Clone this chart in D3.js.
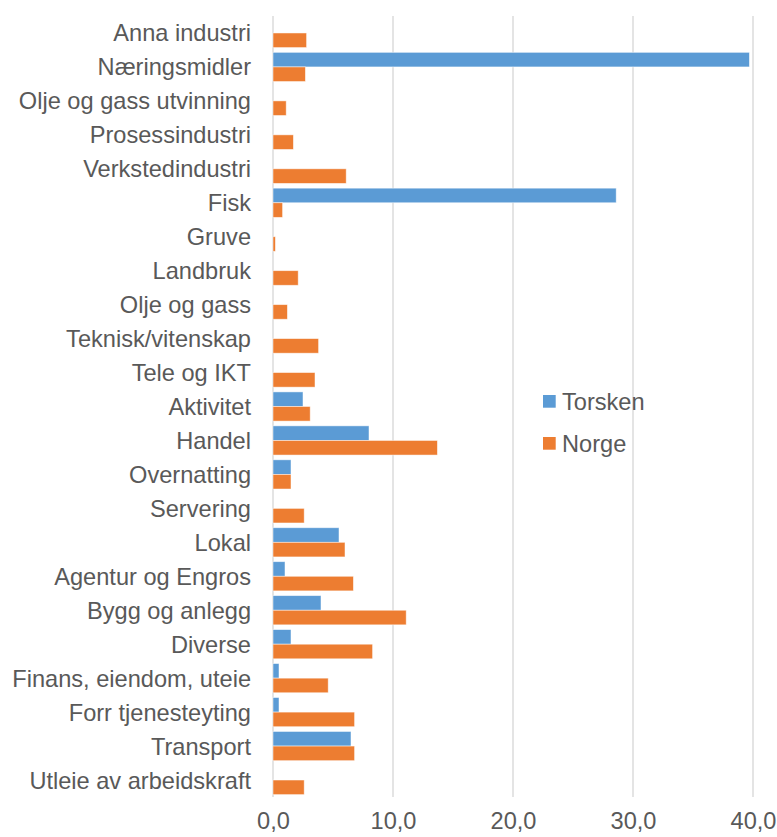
<!DOCTYPE html>
<html>
<head>
<meta charset="utf-8">
<script src="https://cdn.jsdelivr.net/npm/d3@7"></script>
<style>
  body { margin: 0; background: #fff; }
  svg { display: block; font-family: "Liberation Sans", Arial, sans-serif; }
</style>
</head>
<body>
<svg id="chart" width="777" height="837"></svg>
<script>
  // categories top to bottom
  var categories = [
    "Anna industri", "Næringsmidler", "Olje og gass utvinning", "Prosessindustri",
    "Verkstedindustri", "Fisk", "Gruve", "Landbruk", "Olje og gass",
    "Teknisk/vitenskap", "Tele og IKT", "Aktivitet", "Handel", "Overnatting",
    "Servering", "Lokal", "Agentur og Engros", "Bygg og anlegg", "Diverse",
    "Finans, eiendom, uteie", "Forr tjenesteyting", "Transport",
    "Utleie av arbeidskraft"
  ];
  var torsken = [0, 39.7, 0, 0, 0, 28.6, 0, 0, 0, 0, 0, 2.5, 8.0, 1.5, 0, 5.5, 1.0, 4.0, 1.5, 0.5, 0.5, 6.5, 0];
  var norge = [2.8, 2.7, 1.1, 1.7, 6.1, 0.8, 0.2, 2.1, 1.2, 3.8, 3.5, 3.1, 13.7, 1.5, 2.6, 6.0, 6.7, 11.1, 8.3, 4.6, 6.8, 6.8, 2.6];
  var seriesNames = ["Torsken", "Norge"];
  var colors = ["#5B9BD5", "#ED7D31"];
  var xTicks = [0, 10, 20, 30, 40];

  var svg = d3.select("#chart");
  var textColor = "#595959";
  var fontSize = "23.6px";

  var x = d3.scaleLinear().domain([0, 40]).range([273, 753]);
  var y = d3.scaleBand().domain(categories).range([16, 797]).padding(0);

  var nb = d3.formatLocale({ decimal: ",", thousands: " ", grouping: [3], currency: ["", ""] });
  var fmt = nb.format(".1f");

  // gridlines
  svg.append("g").selectAll("line")
    .data(xTicks)
    .enter().append("line")
    .attr("x1", function(d) { return x(d); })
    .attr("x2", function(d) { return x(d); })
    .attr("y1", 16).attr("y2", 797)
    .attr("stroke", "#d9d9d9")
    .attr("stroke-width", 1.4);

  // bars, blue above orange in each band
  var bh = y.bandwidth() * 0.43;
  var series = [torsken, norge];
  series.forEach(function(vals, s) {
    var rows = vals.map(function(v, i) { return { cat: categories[i], value: v }; })
      .filter(function(d) { return d.value > 0; });
    svg.append("g").selectAll("rect")
      .data(rows)
      .enter().append("rect")
      .attr("x", x(0))
      .attr("y", function(d) { return y(d.cat) + y.bandwidth() / 2 - bh + s * bh; })
      .attr("width", function(d) { return x(d.value) - x(0); })
      .attr("height", bh)
      .attr("fill", colors[s])
      .attr("stroke", "#fff")
      .attr("stroke-opacity", 0.6)
      .attr("stroke-width", 0.8);
  });

  // category labels
  svg.append("g").selectAll("text")
    .data(categories)
    .enter().append("text")
    .attr("x", 251)
    .attr("y", function(d) { return y(d) + y.bandwidth() / 2; })
    .attr("dy", "0.36em")
    .attr("text-anchor", "end")
    .attr("fill", textColor)
    .style("font-size", fontSize)
    .text(function(d) { return d; });

  // x axis
  var xAxis = d3.axisBottom(x).tickValues(xTicks).tickFormat(fmt).tickSize(0).tickPadding(0);
  var gx = svg.append("g").attr("transform", "translate(0,812)").call(xAxis);
  gx.select(".domain").remove();
  gx.selectAll("text")
    .attr("fill", textColor)
    .style("font-size", fontSize)
    .style("font-family", "\"Liberation Sans\", Arial, sans-serif");

  // legend
  var legend = svg.append("g").selectAll("g")
    .data(seriesNames)
    .enter().append("g")
    .attr("transform", function(d, i) { return "translate(543," + (395 + i * 42) + ")"; });
  legend.append("rect")
    .attr("width", 12.7).attr("height", 12.7)
    .attr("fill", function(d, i) { return colors[i]; });
  legend.append("text")
    .attr("x", 19).attr("y", 6.4).attr("dy", "0.36em")
    .attr("fill", textColor)
    .style("font-size", fontSize)
    .text(function(d) { return d; });
</script>
</body>
</html>
